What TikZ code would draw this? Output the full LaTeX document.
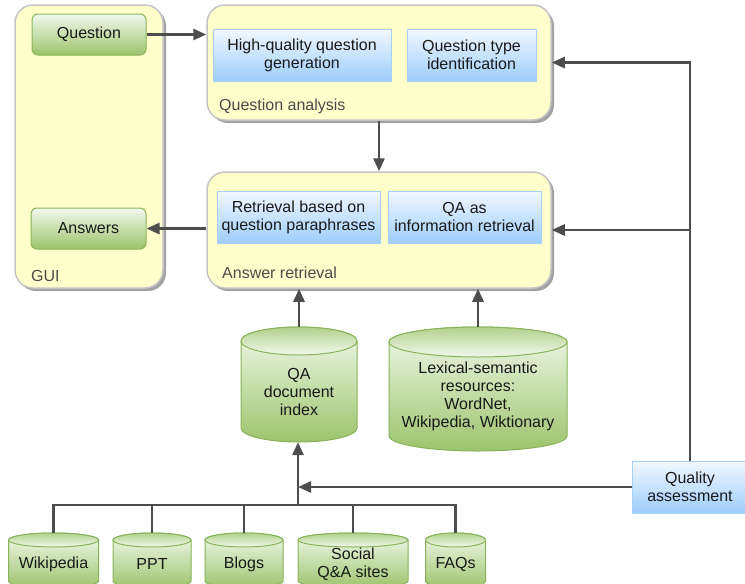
\documentclass[tikz,border=0pt]{standalone}
\usepackage{fontspec}
\setmainfont{Liberation Sans}
\usetikzlibrary{arrows.meta,shadows,calc}
\definecolor{yfill}{HTML}{FFFFCC}
\definecolor{yborder}{HTML}{C4C4C4}
\definecolor{gtop}{HTML}{F2F8EC}
\definecolor{gbot}{HTML}{9CC46C}
\definecolor{gborder}{HTML}{88B35A}
\definecolor{btop}{HTML}{F2F8FF}
\definecolor{bbot}{HTML}{9DCDFB}
\definecolor{bborder}{HTML}{A9D1F7}
\definecolor{lin}{HTML}{4D4D4D}
\definecolor{lbl}{HTML}{4A4A4A}
\newcommand\dgfont{\fontsize{16}{18}\selectfont}
\newcommand\dbcyl[7]{%
  \shade[top color=gtop, bottom color=gbot, draw=gborder, line width=1pt]
    (#2-#5,-#3-#6) -- (#2-#5,-#4+#6)
    arc[start angle=180,end angle=360,x radius=#5,y radius=#6]
    -- (#2+#5,-#3-#6)
    arc[start angle=0,end angle=180,x radius=#5,y radius=#6] -- cycle;
  \shade[top color=gbot!75!gtop, bottom color=gtop, draw=gborder, line width=1pt]
    (#2,-#3-#6) ellipse[x radius=#5, y radius=#6];
  \node[inner sep=0pt, minimum width=2*#5, minimum height=#4-#3] (#1) at (#2,{-(#3+#4)/2}) {};
  \node[align=center, font=\dgfont, text=black!90] at (#2,{-(#3+#4)/2-#6/2}) {#7};
}
\tikzset{
  ybox/.style={draw=yborder, fill=yfill, line width=1.5pt, rounded corners=18pt,
    drop shadow={shadow xshift=3pt, shadow yshift=-3pt, fill=black!45, opacity=0.8}},
  gbox/.style={draw=gborder, top color=gtop, bottom color=gbot, line width=1pt,
    rounded corners=6pt, font=\dgfont, text=black!90, minimum height=41, inner sep=0pt},
  bbox/.style={draw=bborder, top color=btop, bottom color=bbot, line width=1pt,
    font=\dgfont, text=black!90, align=center, minimum height=52, inner sep=0pt},
  boxlabel/.style={font=\dgfont, text=lbl, anchor=west, inner sep=0pt},
  conn/.style={draw=lin, line width=2.8pt},
  arr/.style={conn, -{Triangle[length=13pt,width=11pt]}},
}
\begin{document}
\begin{tikzpicture}[x=1pt,y=1pt]
\useasboundingbox (0,0) rectangle (745,-584);

% containers
\node[ybox, minimum width=148, minimum height=283] (gui) at (89,-146.5) {};
\node[ybox, minimum width=344, minimum height=115] (qabox) at (379,-62.5) {};
\node[ybox, minimum width=344, minimum height=116] (arbox) at (379,-230) {};
\node[boxlabel] (guil) at (31,-276) {GUI};
\node[boxlabel] (qal) at (219,-106) {Question analysis};
\node[boxlabel] (arl) at (222,-273) {Answer retrieval};

% green GUI nodes
\node[gbox, minimum width=114] (question) at (89,-34.5) {Question};
\node[gbox, minimum width=115] (answers) at (88.5,-228.5) {Answers};

% blue nodes
\node[bbox, minimum width=178] (hq) at (302,-55) {High-quality question\\generation};
\node[bbox, minimum width=129] (qt) at (471.5,-55) {Question type\\identification};
\node[bbox, minimum width=163] (rb) at (298.5,-217) {Retrieval based on\\question paraphrases};
\node[bbox, minimum width=153] (qair) at (464.5,-217) {QA as\\information retrieval};
\node[bbox, minimum width=116] (quality) at (690,-487) {Quality\\assessment};

% cylinders
\dbcyl{docidx}{299}{327}{442}{58}{14}{QA\\document\\index}
\dbcyl{lex}{478}{327}{451}{89}{15}{Lexical-semantic\\resources:\\WordNet,\\Wikipedia, Wiktionary}
\dbcyl{wiki}{53.5}{533}{588}{45}{7}{Wikipedia}
\dbcyl{ppt}{152}{533}{588}{39}{7}{PPT}
\dbcyl{blogs}{244}{533}{588}{39}{7}{Blogs}
\dbcyl{social}{353}{533}{588}{55}{7}{Social\\Q\&A sites}
\dbcyl{faq}{455.5}{533}{588}{30}{7}{FAQs}

% connectors
\draw[arr] (question.east) -- (question.east -| qabox.west);
\draw[arr] (qabox.south) -- (arbox.north);
\draw[arr] (answers.east -| arbox.west) -- (answers.east);
\draw[arr] (quality.north) |- (qabox.east);
\draw[arr] (quality.north |- arbox.east) -- (arbox.east);
\draw[arr] (docidx.north) -- (docidx.north |- arbox.south);
\draw[arr] (lex.north) -- (lex.north |- arbox.south);

\coordinate (bus) at (298,-505);
\draw[conn] (wiki.north) |- (bus);
\draw[conn] (ppt.north) |- (bus);
\draw[conn] (blogs.north) |- (bus);
\draw[conn] (social.north) |- (bus);
\draw[conn] (faq.north) |- (bus);
\draw[arr] (bus) -- (bus |- docidx.south);
\draw[arr] (quality.west) -- (quality.west -| bus);
\end{tikzpicture}
\end{document}
